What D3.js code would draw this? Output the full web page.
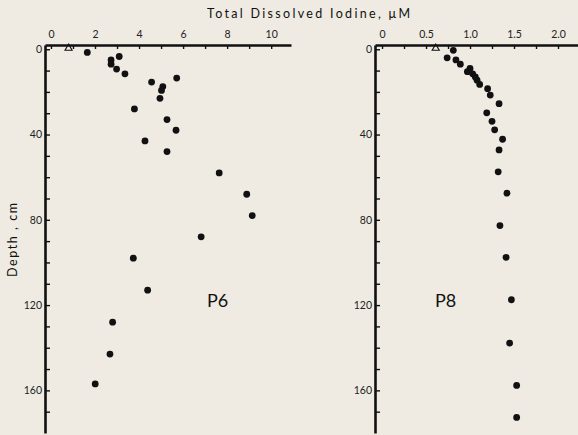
<!DOCTYPE html>
<html>
<head>
<meta charset="utf-8">
<script src="https://cdn.jsdelivr.net/npm/d3@7"></script>
<style>
  body { margin: 0; background: #efebe2; }
  svg { display: block; }
  .axis text { font-family: Lato, "DejaVu Sans", sans-serif; font-size: 10.5px; fill: #222; }
  .axis .domain { stroke: #111; stroke-width: 2.6; }
  .axis .tick line { stroke: #111; stroke-width: 1.4; }
</style>
</head>
<body>
<div id="chart"></div>
<script>
// station P6: iodine (uM) vs depth (cm)
var p6Iodine = [1.65, 3.1, 2.73, 2.73, 2.98, 3.36, 5.71, 4.57, 5.08, 5.02, 4.95, 3.79, 5.27, 5.68, 4.27, 5.27, 7.64, 8.89, 9.14, 6.82, 3.74, 4.39, 2.80, 2.68, 2.01];
var p6Depth  = [1.5, 3.4, 5, 7, 9.3, 11.5, 13.5, 15.4, 17.5, 19.3, 23, 28, 33, 38, 43, 48, 58, 68, 78, 88, 98, 113, 128, 143, 157];
var p6Bottom = [0.8];   // overlying water (triangle), at depth 0

// station P8
var p8Iodine = [0.81, 0.74, 0.84, 0.89, 1.0, 0.97, 1.03, 1.06, 1.08, 1.11, 1.20, 1.23, 1.33, 1.19, 1.25, 1.28, 1.37, 1.33, 1.32, 1.42, 1.34, 1.41, 1.47, 1.45, 1.53, 1.53];
var p8Depth  = [0.5, 4, 5, 7, 9, 10.5, 11.5, 13, 14.5, 16.5, 18.5, 21.5, 25.5, 29.8, 33.8, 37.8, 42.2, 47.2, 57.5, 67.5, 82.7, 97.6, 117.5, 137.8, 157.7, 172.7];
var p8Bottom = [0.61];

var p6TickLabels = [0, 2, 4, 6, 8, 10];
var p8TickLabels = [0, 0.5, 1.0, 1.5, 2.0];
var depthTickLabels = [0, 40, 80, 120, 160];

var width = 578, height = 435;

var svg = d3.select("#chart").append("svg")
	.attr("width", width)
	.attr("height", height);

var y = d3.scaleLinear().domain([-2, 180]).range([45, 433]);

var panels = [
	{ name: "P6", x: d3.scaleLinear().domain([-0.27, 10.9]).range([45, 291]),
	  ticks: d3.range(0, 11, 1), labels: p6TickLabels, fmt: d => d,
	  vals: p6Iodine, depth: p6Depth, tri: p6Bottom, labelX: 207 },
	{ name: "P8", x: d3.scaleLinear().domain([-0.08, 2.25]).range([375, 580]),
	  ticks: d3.range(0, 2.3, 0.25), labels: p8TickLabels, fmt: d => d == 0 ? "0" : d3.format(".1f")(d),
	  vals: p8Iodine, depth: p8Depth, tri: p8Bottom, labelX: 435 }
];

panels.forEach(function (p) {
	var x = p.x;
	var x0 = x.range()[0];

	var topAxis = d3.axisTop(x)
		.tickValues(p.ticks)
		.tickSize(-4)
		.tickSizeOuter(0)
		.tickPadding(7)
		.tickFormat(function (d) {
			var hit = p.labels.find(l => Math.abs(l - d) < 1e-6);
			return hit === undefined ? "" : p.fmt(hit);
		});
	svg.append("g")
		.attr("class", "axis")
		.attr("transform", "translate(0," + y.range()[0] + ")")
		.call(topAxis);

	var leftAxis = d3.axisLeft(y)
		.tickValues(d3.range(0, 180, 10))
		.tickSize(-5)
		.tickSizeOuter(0)
		.tickPadding(3)
		.tickFormat(d => depthTickLabels.includes(d) ? d : "");
	svg.append("g")
		.attr("class", "axis")
		.attr("transform", "translate(" + x0 + ",0)")
		.call(leftAxis);

	svg.append("g").selectAll("circle")
		.data(p.vals)
		.enter()
		.append("circle")
			.attr("cx", d => x(d))
			.attr("cy", (d, i) => y(p.depth[i]))
			.attr("r", 3.4)
			.attr("fill", "#111");

	svg.append("g").selectAll("path")
		.data(p.tri)
		.enter()
		.append("path")
			.attr("d", d3.symbol().type(d3.symbolTriangle).size(22))
			.attr("transform", d => "translate(" + x(d) + "," + (y(0) - 1) + ")")
			.attr("fill", "none")
			.attr("stroke", "#111")
			.attr("stroke-width", 1.1);

	svg.append("text")
		.attr("x", p.labelX)
		.attr("y", 307)
		.text(p.name)
			.attr("font-family", "Lato, sans-serif")
			.attr("font-size", "18px")
			.attr("fill", "#111");
});

svg.append("text")
	.attr("x", 207)
	.attr("y", 18)
	.attr("textLength", 203)
	.attr("lengthAdjust", "spacing")
	.text("Total Dissolved Iodine,  \u03bcM")
		.attr("font-family", "Lato, sans-serif")
		.attr("font-size", "12.5px")
		.attr("fill", "#111");

svg.append("text")
	.attr("transform", "translate(17,240) rotate(-90)")
	.attr("text-anchor", "middle")
	.attr("textLength", 74)
	.attr("lengthAdjust", "spacing")
	.text("Depth ,  cm")
		.attr("font-family", "Lato, sans-serif")
		.attr("font-size", "12.5px")
		.attr("fill", "#111");
</script>
</body>
</html>
